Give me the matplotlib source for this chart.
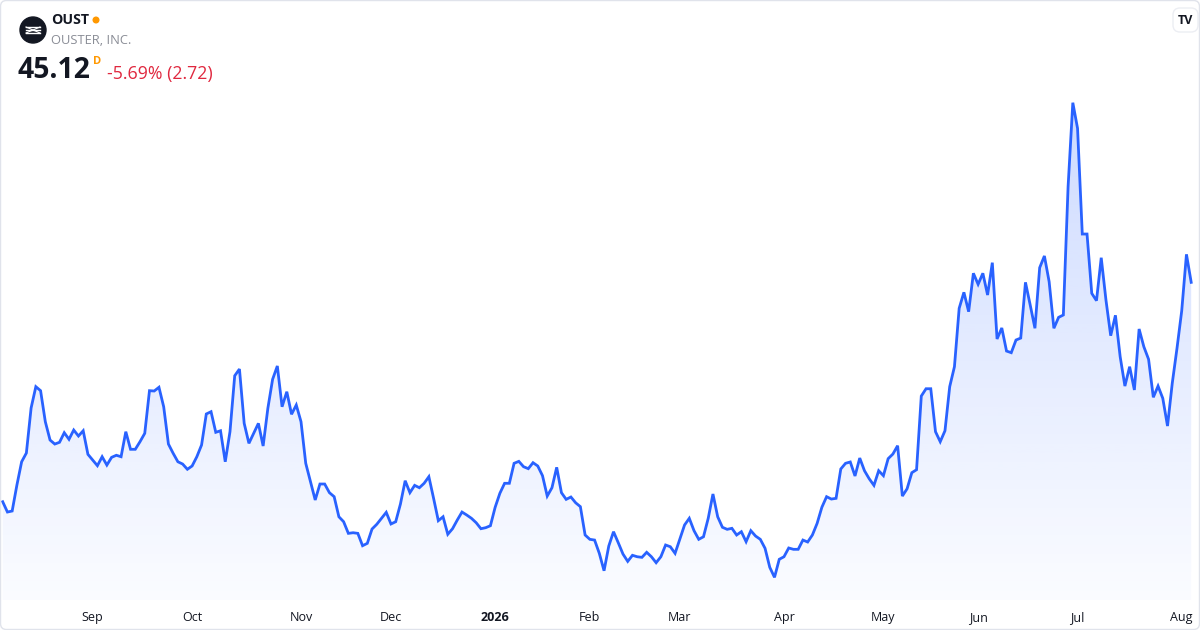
import matplotlib
matplotlib.use('Agg')
import matplotlib.pyplot as plt
import numpy as np
import pandas as pd
from matplotlib.lines import Line2D
from matplotlib.patches import Circle, FancyBboxPatch
from matplotlib.transforms import IdentityTransform

plt.rcParams['font.family'] = ['Open Sans', 'DejaVu Sans']

symbol = 'OUST'
company = 'OUSTER, INC.'
last_price = '45.12'
interval = 'D'
change_text = '-5.69% (2.72)'

start_date = '2025-08-05'
market_holidays = ['2025-09-01', '2025-11-27', '2025-12-25', '2026-01-01',
                   '2026-01-19', '2026-02-16', '2026-04-03', '2026-05-25',
                   '2026-06-19', '2026-07-03']

# daily closes
prices = [
    23.82, 22.82, 22.92, 25.44, 27.70, 28.55, 32.92, 34.99, 34.60, 31.59,
    29.81, 29.42, 29.59, 30.52, 29.88, 30.78, 30.20, 30.71, 28.42, 27.87,
    27.32, 28.19, 27.38, 28.13, 28.33, 28.19, 30.62, 28.91, 28.91, 29.65,
    30.46, 34.60, 34.57, 34.93, 33.04, 29.42, 28.52, 27.70, 27.48, 26.97,
    27.29, 28.19, 29.33,
    32.34, 32.56, 30.56, 30.71, 27.70, 30.62, 36.05, 36.70, 31.43, 29.49,
    30.46, 31.43, 29.23, 32.89, 35.70, 37.00, 33.04, 34.50, 32.31, 33.21,
    31.59, 27.55, 25.76, 23.99, 25.54, 25.54, 24.70, 24.31, 22.36, 21.88,
    20.75, 20.81, 20.75, 19.55, 19.78, 21.17, 21.63, 22.21, 22.79, 21.66,
    21.88, 23.60,
    25.86, 24.70, 25.41, 25.18, 25.61, 26.25, 24.15, 21.98, 22.36, 20.66,
    21.20, 22.04, 22.82, 22.53, 22.21, 21.78, 21.20, 21.30, 21.49, 23.28,
    24.64, 25.61, 25.61, 27.55, 27.74, 27.22, 27.03, 27.61, 27.29, 26.35,
    24.37, 25.18, 27.16, 24.70, 24.05, 24.28, 23.72, 23.34, 20.59, 20.17,
    20.10, 18.81,
    17.12, 19.52, 20.91, 19.84, 18.74, 18.03, 18.62, 18.48, 18.42, 18.91,
    18.48, 17.90, 18.48, 19.62, 19.45, 18.81, 20.17, 21.56, 22.21, 21.01,
    20.17, 20.42, 22.21, 24.57, 22.36, 21.34, 21.14, 21.24, 20.59, 20.91,
    19.94, 21.01, 20.49, 20.17, 19.30, 17.45, 16.48, 18.23, 18.48, 19.33,
    19.20, 19.20,
    20.10, 19.91, 20.59, 21.72, 23.28, 24.31, 24.08, 24.15, 27.00, 27.55,
    27.68, 26.32, 28.06, 26.83, 26.05, 25.41, 26.83, 26.35, 28.00, 28.45,
    29.26, 24.37, 25.08, 26.64, 26.93, 34.08, 34.79, 34.79, 30.62, 29.65,
    30.71, 34.99, 36.93, 42.60, 44.15, 42.27, 46.00, 44.93, 46.00, 43.89,
    47.03, 39.62, 40.69,
    38.45, 38.29, 39.52, 39.71, 45.12, 42.92, 40.66, 46.54, 47.68, 45.18,
    40.66, 41.72, 41.95, 54.40, 62.56, 60.07, 49.81, 49.81, 44.05, 43.34,
    47.51, 43.40, 39.94, 41.92, 37.90, 35.05, 36.93, 34.67, 40.59, 38.87,
    37.65, 33.96, 35.05, 33.86, 31.17, 35.32, 38.71, 42.36, 47.84, 45.12,
]

LINE = '#2962ff'
TEXT = '#131722'
W, H = 1200, 630

dates = pd.bdate_range(start=start_date, periods=len(prices), freq='C',
                       holidays=market_holidays)
x = np.arange(len(prices))
y = np.array(prices)

# first trading day of every month gets a tick
tick_idx, tick_lbl = [], []
for i in range(1, len(dates)):
    if dates[i].month != dates[i - 1].month:
        tick_idx.append(i)
        tick_lbl.append(str(dates[i].year) if dates[i].month == 1
                        else dates[i].strftime('%b'))

fig = plt.figure(figsize=(W / 100, H / 100), dpi=100)
fig.patch.set_facecolor('white')
ax = fig.add_axes([0, 30 / H, 1, 600 / H])
ax.patch.set_alpha(0)

y_lo, y_hi = 14.28, 72.53
x_lo, x_hi = -0.57, 252.86
ax.set_xlim(x_lo, x_hi)
ax.set_ylim(y_lo, y_hi)

# gradient area under the line
poly = ax.fill_between(x, y, y_lo, color='none', lw=0)
alpha = np.linspace(0.02, 0.275, 256)
img = np.zeros((256, 1, 4))
img[..., 0], img[..., 1], img[..., 2] = 41 / 255, 98 / 255, 1.0
img[:, 0, 3] = alpha
im = ax.imshow(img, extent=[x_lo, x_hi, y_lo, y_hi], origin='lower',
               aspect='auto', interpolation='bilinear', zorder=1)
im.set_clip_path(poly.get_paths()[0], transform=ax.transData)

ax.plot(x, y, color=LINE, lw=2, solid_joinstyle='miter', zorder=3)

ax.set_xticks(tick_idx)
ax.set_xticklabels(tick_lbl, fontsize=9, color=TEXT)
for lbl in ax.get_xticklabels():
    if lbl.get_text().isdigit():
        lbl.set_fontweight('bold')
ax.tick_params(axis='x', length=0, pad=8)
ax.set_yticks([])
for s in ax.spines.values():
    s.set_visible(False)


def px(xp, yp):
    return xp / W, 1 - yp / H


ident = IdentityTransform()

# header
fig.add_artist(Circle((33, H - 30), 13, color='#131722', transform=ident))
for dy in (-3, 0, 3):
    fig.add_artist(Line2D([26, 40], [H - 30 + dy, H - 30 + dy], color='white',
                          lw=1, transform=ident))
fig.add_artist(Line2D([26, 40], [H - 33, H - 27], color='white', lw=0.8, transform=ident))
fig.add_artist(Line2D([26, 40], [H - 27, H - 33], color='white', lw=0.8, transform=ident))

fig.text(*px(51, 20), symbol, fontsize=10.2, fontweight='bold', color=TEXT, va='center')
fig.add_artist(Circle((96, H - 20), 2.8, color='#ff9800', transform=ident))
fig.text(*px(51, 40), company, fontsize=9.3, color='#8a8d96', va='center')
fig.text(*px(17, 71), last_price, fontsize=20.3, fontweight='bold', color=TEXT, va='center')
fig.text(*px(93, 62), interval, fontsize=8, fontweight='bold', color='#ff9800', va='center')
fig.text(*px(107, 74), change_text, fontsize=12.8, color='#e0283f', va='center')

# TradingView badge
fig.add_artist(FancyBboxPatch((1173, H - 32), 25, 24,
                              boxstyle='round,pad=0,rounding_size=7',
                              ec='#eceef3', fc='white', lw=1, transform=ident))
fig.text(*px(1185, 20), 'TV', fontsize=9, fontweight='bold', color=TEXT,
         ha='center', va='center')

fig.add_artist(FancyBboxPatch((0.5, 0.5), W - 1, H - 1,
                              boxstyle='round,pad=0,rounding_size=6',
                              ec='#e0e3eb', fc='none', lw=1, transform=ident))

fig.savefig('out.png', dpi=100)
plt.close(fig)
